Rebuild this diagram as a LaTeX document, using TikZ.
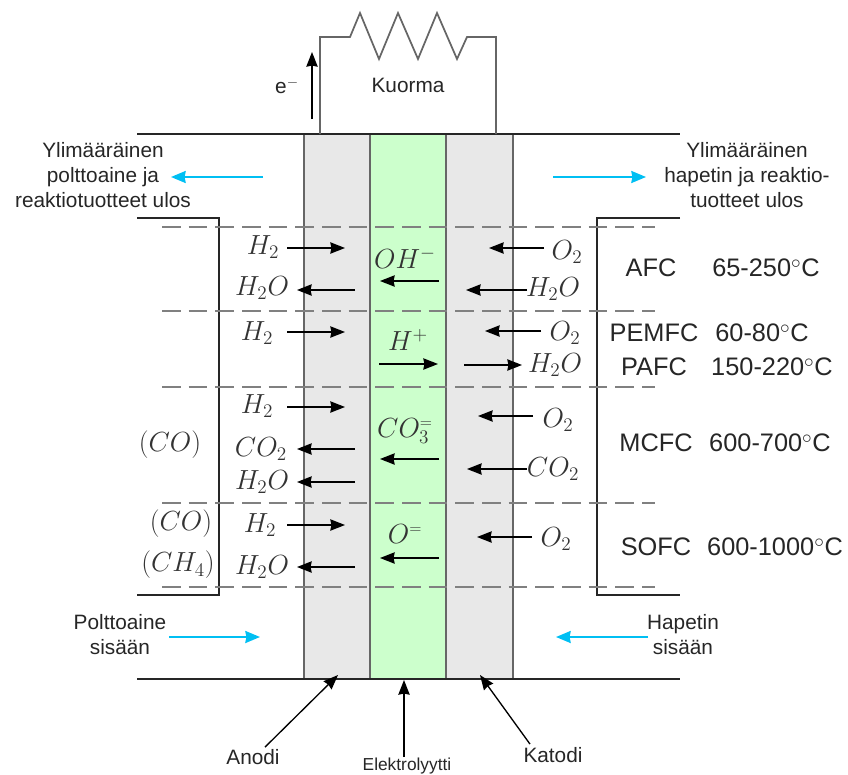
\documentclass[tikz,border=0pt]{standalone}
\usepackage{fontspec}
\setmainfont{Liberation Sans}
\usetikzlibrary{arrows.meta}
\definecolor{layergray}{RGB}{232,232,232}
\definecolor{elgreen}{RGB}{204,255,204}
\definecolor{flowcyan}{RGB}{0,191,243}
\tikzset{
  wall/.style={line width=1.2pt,black!85},
  layer/.style={draw=black!60,line width=0.8pt},
  level/.style={gray,line width=0.9pt,dash pattern=on 14pt off 6pt},
  flow/.style={-{Stealth[length=11pt,width=8.5pt,inset=0.8pt]},line width=1pt},
  stream/.style={-{Stealth[length=11pt,width=9pt,inset=0.8pt]},flowcyan,line width=1.5pt},
  caption/.style={align=center,font=\fontsize{15.6}{18.7}\selectfont,black!85,inner sep=0pt},
  species/.style={font=\fontsize{20.74}{24}\selectfont,black!80,inner sep=0pt},
  cell/.style={font=\fontsize{19}{23}\selectfont,black!85,inner sep=0pt},
}
\begin{document}
\begin{tikzpicture}[x=0.75pt,y=-0.75pt]
    \useasboundingbox (0,0) rectangle (848,774);
    %layers
    \filldraw[layer,fill=layergray] (304,134) rectangle (370,679);
    \filldraw[layer,fill=elgreen] (370,134) rectangle (446,679);
    \filldraw[layer,fill=layergray] (446,134) rectangle (513,679);
    %walls
    \draw[wall] (137,134) -- (680,134);
    \draw[wall] (137,679) -- (680,679);
    \draw[wall] (137,218) -- (219,218) -- (219,595) -- (137,595);
    \draw[wall] (680,218) -- (597,218) -- (597,595) -- (680,595);
    \foreach \yy in {227,311,387,503,587}
        \draw[level] (162,\yy) -- (655,\yy);
    %load
    \draw[layer,line width=1.3pt] (320,134) -- (320,37) -- (350,37) -- (360,13) -- (379,59) -- (398,13) -- (418,59)
        -- (437,13) -- (457,59) -- (467,37) -- (496,37) -- (496,134);
    \node[caption] (load) at (408,85) {Kuorma};
    \draw[flow] (312,119) -- (312,52);
    \node[caption] (electron) at (287,86) {e$^-$};
    %streams
    \draw[stream] (263,177) -- (171,177);
    \draw[stream] (553,177) -- (646,177);
    \draw[stream] (169,637) -- (260,637);
    \draw[stream] (648,637) -- (556,637);
    \node[caption] (fuelout) at (103,175) {Ylimääräinen\\polttoaine ja\\reaktiotuotteet ulos};
    \node[caption] (oxout) at (747,175) {Ylimääräinen\\hapetin ja reaktio-\\tuotteet ulos};
    \node[caption] (fuelin) at (120,635) {Polttoaine\\sisään};
    \node[caption] (oxin) at (683,635) {Hapetin\\sisään};
    %species
    \foreach \xa/\xb/\yy in {287/345/248,355/297/290,287/345/332,287/345/407,355/297/449,355/297/482,287/345/525,355/297/567,
            439/380/281,379/438/364,439/380/459,439/380/558,
            544/489/248,527/466/290,541/485/331,464/522/365,533/478/416,527/467/469,532/477/537}
        \draw[flow] (\xa,\yy) -- (\xb,\yy);
    \foreach \name/\xx/\yy/\txt in {a/263/247/H_2,b/262/288/H_2O,c/257/333/H_2,d/257/406/H_2,e/261/449/CO_2,f/262/482/H_2O,g/260/525/H_2,h/262/567/H_2O,
            i/170/445/\big(CO\big),j/181/524/\big(CO\big),k/178/565/\big(CH_4\big),
            l/405/258/OH^-,m/408/340/H^+,n/405/431/CO_3^{\scriptscriptstyle=},o/405/534/O^{\scriptscriptstyle=},
            p/567/252/O_2,q/553/289/H_2O,r/565/333/O_2,s/555/365/H_2O,t/558/420/O_2,u/553/469/CO_2,v/556/539/O_2}
        \node[species] (\name) at (\xx,\yy) {$\txt$};
    %cell types
    \foreach \name/\xx/\yy/\txt in {afc/651/268/AFC,pemfc/654/333/PEMFC,pafc/654/367/PAFC,mcfc/656/443/MCFC,sofc/656/547/SOFC}
        \node[cell] (\name) at (\xx,\yy) {\txt};
    \foreach \name/\xx/\yy/\txt in {afct/766/268/65-250,pemfct/762/333/60-80,pafct/772/367/150-220,mcfct/770/443/600-700,sofct/775/547/600-1000}
        \node[cell] (\name) at (\xx,\yy) {\txt$^\circ\mathrm{C}$};
    %parts
    \node[caption] (anode) at (253,757) {Anodi};
    \node[caption,font=\fontsize{13}{15}\selectfont] (electrolyte) at (407,766) {Elektrolyytti};
    \node[caption] (cathode) at (553,755) {Katodi};
    \coordinate (anodeend) at (338,675);
    \coordinate (electrolyteend) at (404,680);
    \coordinate (cathodeend) at (480,675);
    \draw[flow] (anode.north) ++(12,-2) -- (anodeend);
    \draw[flow] (404,757) -- (electrolyteend);
    \draw[flow] (cathode.north) ++(-23,-3) -- (cathodeend);
\end{tikzpicture}
\end{document}
